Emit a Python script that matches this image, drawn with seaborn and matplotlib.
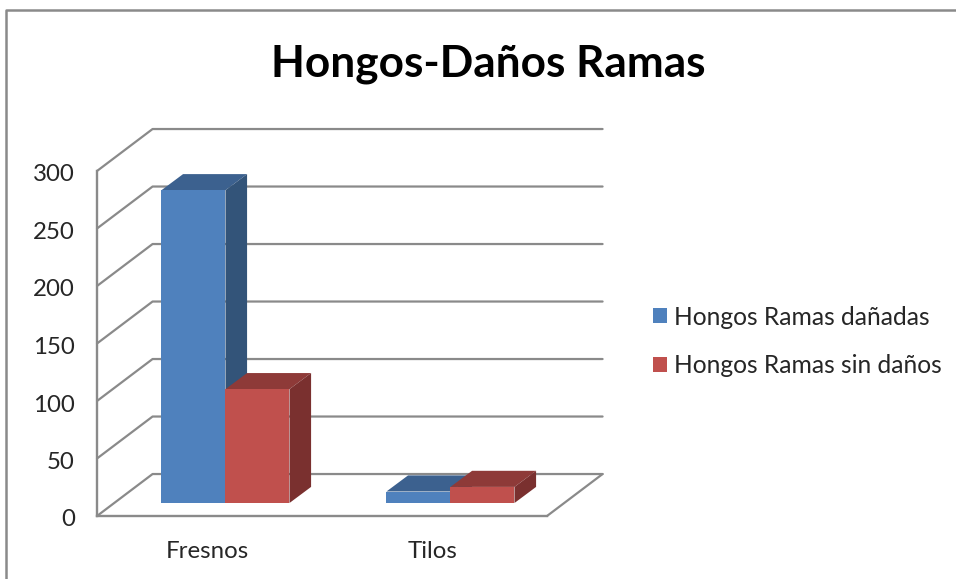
# Hongos-Daños Ramas: Excel style 3D columns
import pandas as pd
import matplotlib
matplotlib.use("Agg")
import matplotlib.pyplot as plt
import seaborn as sns
from matplotlib.lines import Line2D
from matplotlib.transforms import Affine2D

# data
especies = ["Fresnos", "Tilos"]
danadas = [272, 10]
sin_danos = [99, 14]
series = ["Hongos Ramas dañadas", "Hongos Ramas sin daños"]
y_ticks = [0, 50, 100, 150, 200, 250, 300]

# colours: front, top, side
colores = {series[0]: ("#4F81BD", "#3C618F", "#335479"),
           series[1]: ("#C0504D", "#8E3A38", "#7A302F")}
gris = "#8A8A8A"

df = pd.DataFrame({
    "especie": especies * 2,
    "valor": danadas + sin_danos,
    "serie": [series[0]] * 2 + [series[1]] * 2,
})

sns.set_style("white")
plt.rcParams["font.family"] = ["Lato", "DejaVu Sans"]

W, H = 956, 579
fig = plt.figure(figsize=(W / 100, H / 100), dpi=100)
ax = fig.add_axes([97 / W, (H - 516) / H, 450 / W, 345 / H])

sns.barplot(data=df, x="especie", y="valor", hue="serie", hue_order=series,
            palette={s: c[0] for s, c in colores.items()},
            width=0.569, gap=0, saturation=1, linewidth=0, ax=ax, zorder=3)

ax.set_xlim(-0.5, 1.5)
ax.set_ylim(0, 300)
ax.set_xlabel("")
ax.set_ylabel("")
ax.set_yticks(y_ticks)

# depth of the box and of the bars, in data units
box_dx, box_dy = 0.247, 36.5
shift_x, shift_y = 0.071, 11.3
bar_dx, bar_dy = 0.096, 14

# walls and floor
for v in y_ticks:
    ax.plot([-0.5, -0.5 + box_dx, 1.5 + box_dx], [v, v + box_dy, v + box_dy],
            color=gris, lw=1.6, clip_on=False, zorder=1)
ax.plot([1.5, 1.5 + box_dx], [0, box_dy], color=gris, lw=1.6, clip_on=False, zorder=1)

# sides and tops of the bars
for i, cont in enumerate(ax.containers):
    _, top_c, side_c = colores[series[i]]
    for j, bar in enumerate(cont):
        z = 3 + 2 * i + j * 0.1
        x0 = bar.get_x() + shift_x
        x1 = x0 + bar.get_width()
        y0 = shift_y
        y1 = bar.get_height() + shift_y
        ax.fill([x0, x1, x1 + bar_dx, x0 + bar_dx], [y1, y1, y1 + bar_dy, y1 + bar_dy],
                color=top_c, lw=0, clip_on=False, zorder=z)
        ax.fill([x1, x1 + bar_dx, x1 + bar_dx, x1], [y0, y0 + bar_dy, y1 + bar_dy, y1],
                color=side_c, lw=0, clip_on=False, zorder=z)
        # move the front face back to the bar plane
        bar.set_x(x0)
        bar.set_y(y0)
        bar.set_zorder(z + 0.5)
        bar.set_clip_on(False)

sns.despine(ax=ax, top=True, right=True)
for s in ["left", "bottom"]:
    ax.spines[s].set_color(gris)
    ax.spines[s].set_linewidth(1.7)
ax.tick_params(axis="y", length=0, pad=16, labelsize=17.3, labelcolor="#262626")
ax.tick_params(axis="x", length=0, pad=18, labelsize=17.3, labelcolor="#262626")

# nudge the tick labels a little
for lab in ax.get_yticklabels():
    lab.set_transform(lab.get_transform() + Affine2D().translate(0, -2))
for lab in ax.get_xticklabels():
    lab.set_transform(lab.get_transform() + Affine2D().translate(-2, 0))

# legend
handles, labels = ax.get_legend_handles_labels()
ax.legend(handles, labels, loc="center left", bbox_to_anchor=(653 / W, (H - 341.5) / H),
          bbox_transform=fig.transFigure, frameon=False, fontsize=17.7,
          handlelength=0.57, handleheight=0.57, handletextpad=0.28, labelspacing=1.05,
          labelcolor="#262626", borderpad=0, borderaxespad=0)

fig.text(488 / W, (H - 64) / H, "Hongos-Daños Ramas", ha="center", va="center",
         fontsize=31.8, fontweight="bold", color="black")

# chart frame, only top and left show in the screenshot
fig.add_artist(Line2D([6 / W, 6 / W, 1], [0, (H - 10) / H, (H - 10) / H],
                      color=gris, lw=1.8, transform=fig.transFigure))

fig.savefig("out.png", dpi=100)
